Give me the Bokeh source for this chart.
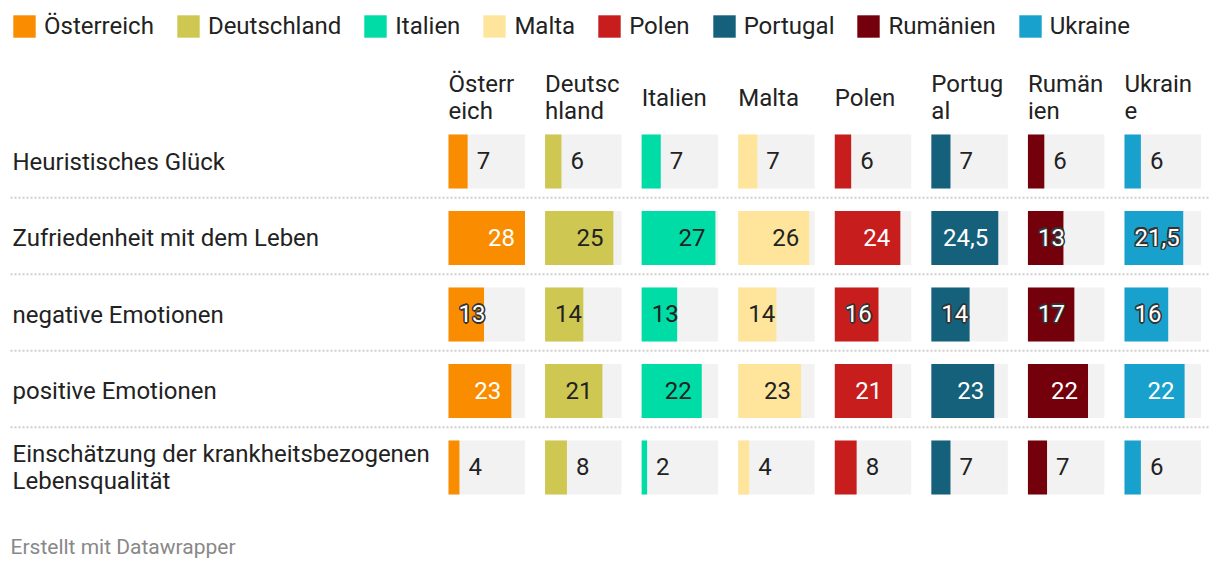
from bokeh.plotting import figure
from bokeh.models import Range1d, ColumnDataSource, Legend, LegendItem
from bokeh.embed import file_html
from bokeh.resources import INLINE
from bokeh.core.properties import value

# ---------------- data ----------------
countries = ["Österreich", "Deutschland", "Italien", "Malta", "Polen", "Portugal", "Rumänien", "Ukraine"]
headers = ["Österr\neich", "Deutsc\nhland", "Italien", "Malta", "Polen", "Portug\nal", "Rumän\nien", "Ukrain\ne"]
colors = ["#fa8c00", "#cec752", "#00dca6", "#ffe59c", "#c71e1d", "#15607a", "#73000a", "#18a1cd"]
row_labels = ["Heuristisches Glück", "Zufriedenheit mit dem Leben", "negative Emotionen",
              "positive Emotionen", "Einschätzung der krankheitsbezogenen\nLebensqualität"]

oesterreich = [7, 28, 13, 23, 4]
deutschland = [6, 25, 14, 21, 8]
italien = [7, 27, 13, 22, 2]
malta = [7, 26, 14, 23, 4]
polen = [6, 24, 16, 21, 8]
portugal = [7, 24.5, 14, 23, 7]
rumaenien = [6, 13, 17, 22, 7]
ukraine = [6, 21.5, 16, 22, 6]
series = [oesterreich, deutschland, italien, malta, polen, portugal, rumaenien, ukraine]
scale_max = 28
footer = "Erstellt mit Datawrapper"

# ---------------- layout constants ----------------
FONT = "Roboto"
DARK = "#222222"
W, H = 1212, 566
col_x0, col_pitch, cell_w = 448.0, 96.57, 76.5
row_y0, row_pitch, bar_h = 161.0, 76.5, 54
FS = 24

p = figure(width=W, height=H, x_range=Range1d(0, W), y_range=Range1d(H, 0),
           output_backend="svg", toolbar_location=None, min_border=0,
           x_axis_type=None, y_axis_type=None)
p.outline_line_color = None
p.background_fill_color = "white"
p.border_fill_color = "white"

n_rows = len(row_labels)
row_y = [row_y0 + j * row_pitch for j in range(n_rows)]
col_x = [col_x0 + i * col_pitch for i in range(len(countries))]

# separators
sep_y = [row_y[j] + row_pitch / 2 - 2 for j in range(n_rows - 1)]
p.segment(x0=[10] * len(sep_y), x1=[1208] * len(sep_y), y0=sep_y, y1=sep_y,
          line_color="#cfcfcf", line_width=2, line_dash="2 2")

# grey background cells
bg_left, bg_right, bg_y = [], [], []
for i in range(len(countries)):
    for j in range(n_rows):
        bg_left.append(col_x[i]); bg_right.append(col_x[i] + cell_w); bg_y.append(row_y[j])
p.hbar(y=bg_y, left=bg_left, right=bg_right, height=bar_h, fill_color="#f2f2f2", line_color=None)


def lum(hexc):
    r, g, b = (int(hexc[k:k + 2], 16) / 255 for k in (1, 3, 5))
    f = lambda c: c / 12.92 if c <= 0.03928 else ((c + 0.055) / 1.055) ** 2.4
    return 0.2126 * f(r) + 0.7152 * f(g) + 0.0722 * f(b)


def fmt(v):
    return ("%g" % v).replace(".", ",")


def text_w(s):
    return sum(0.196 * FS if ch == "," else 0.5615 * FS for ch in s)


items = []
lab = {"plain": dict(x=[], y=[], t=[], c=[], a=[]), "halo": dict(x=[], y=[], t=[], c=[], a=[])}
for i, (name, vals, col) in enumerate(zip(countries, series, colors)):
    rights = [col_x[i] + v / scale_max * cell_w for v in vals]
    src = ColumnDataSource(dict(y=row_y, left=[col_x[i]] * n_rows, right=rights))
    r = p.hbar(y="y", left="left", right="right", height=bar_h, source=src,
               fill_color=col, line_color=None)
    items.append(LegendItem(label=name, renderers=[r]))
    dark_bar = lum(col) < 0.45
    for j, v in enumerate(vals):
        s = fmt(v)
        bw = rights[j] - col_x[i]
        lw = text_w(s)
        if bw < 30:
            key, x, c, a = "plain", rights[j] + 9, DARK, "left"
        elif bw < lw + 21:
            x, a = col_x[i] + 10, "left"
            if dark_bar:
                key, c = "halo", "white"
            else:
                key, c = "plain", DARK
        else:
            key, x, a = "plain", rights[j] - 10, "right"
            c = "white" if dark_bar else DARK
        d = lab[key]
        d["x"].append(x); d["y"].append(row_y[j] - 1); d["t"].append(s); d["c"].append(c); d["a"].append(a)

common = dict(text_baseline="middle", text_font=value(FONT), text_font_size=f"{FS}px")

# halo labels: dark outline layer made of offset copies, then white text on top
h = lab["halo"]
halo_offsets = [(-1.6, 0), (1.6, 0), (0, -1.6), (0, 1.6), (-1.2, -1.2), (1.2, -1.2), (-1.2, 1.2), (1.2, 1.2)]
for dx, dy in halo_offsets:
    p.text(x=[xx + dx for xx in h["x"]], y=[yy + dy for yy in h["y"]], text=h["t"],
           text_align="left", text_color="#333333", **common)
p.text(x=h["x"], y=h["y"], text=h["t"], text_align="left", text_color="white", **common)

pl = lab["plain"]
src = ColumnDataSource(dict(x=pl["x"], y=pl["y"], t=pl["t"], c=pl["c"], a=pl["a"]))
p.text(x="x", y="y", text="t", text_color="c", text_align="a", source=src, **common)

# column headers
hx, hy, ht = [], [], []
for i, hd in enumerate(headers):
    lines = hd.split("\n")
    n = len(lines)
    for k, ln in enumerate(lines):
        hx.append(col_x[i]); hy.append(97 + (k - (n - 1) / 2) * 26.6); ht.append(ln)
p.text(x=hx, y=hy, text=ht, text_color=DARK, text_align="left", **common)

# row labels
rx, ry, rt = [], [], []
for j, rl in enumerate(row_labels):
    lines = rl.split("\n")
    n = len(lines)
    for k, ln in enumerate(lines):
        rx.append(12); ry.append(row_y[j] + (k - (n - 1) / 2) * 27); rt.append(ln)
p.text(x=rx, y=ry, text=rt, text_color=DARK, text_align="left", **common)

# footer
p.text(x=[10], y=[546], text=[footer], text_color="#888888", text_font=value(FONT),
       text_font_size="21px", text_baseline="middle", text_align="left")

legend = Legend(items=items, orientation="horizontal", location=(10, H - 40), margin=0, padding=0,
                glyph_width=28, glyph_height=28, label_standoff=6, spacing=20,
                border_line_color=None, background_fill_alpha=0,
                label_text_font=FONT, label_text_font_size=f"{FS}px", label_text_color=DARK)
p.add_layout(legend)

open("out.html", "w").write(file_html(p, INLINE))
